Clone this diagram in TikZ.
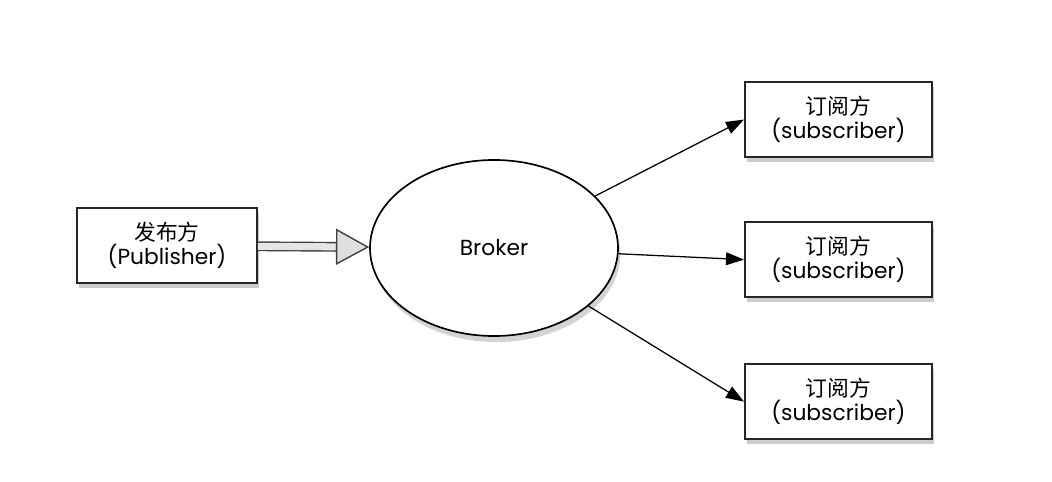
\documentclass[tikz,border=0pt]{standalone}
\usepackage{fontspec}
\setmainfont{Poppins}
\newfontfamily\cjk{Noto Sans CJK SC}
\usepackage{tikz}
\usetikzlibrary{positioning,arrows.meta,shapes,shadows}

\begin{document}
\begin{tikzpicture}[
    party/.style={rectangle, draw=black!85, line width=1.3pt, fill=white,
                  minimum width=4.5cm, minimum height=1.875cm,
                  align=center, font=\fontsize{15.5}{17}\selectfont,
                  drop shadow={shadow xshift=0.6mm, shadow yshift=-1.2mm, opacity=0.4}},
    hub/.style={ellipse, draw=black, line width=1.2pt, fill=white,
                minimum width=6.2cm, minimum height=4.4cm,
                font=\fontsize{15.5}{17}\selectfont,
                drop shadow={shadow xshift=0.6mm, shadow yshift=-1.5mm, opacity=0.35}},
    arrow/.style={-{Triangle[length=4.5mm, width=3.2mm]}, line width=0.9pt},
    pushline/.style={draw=gray!50!black, line width=1pt, double=gray!20, double distance=5pt,
                     -{Triangle[length=8.3mm, width=9mm, color=gray!50!black, fill=gray!25, line width=1pt]}}
]
    \useasboundingbox (0,0) rectangle (26.3,-12.05);

    \node[hub] (broker) at (12.35,-6.2) {Broker};
    \node[party] (pub) at (4.175,-6.14) {{\cjk 发布方}\\(Publisher)};
    \node[party, minimum width=4.675cm] (sub1) at (20.96,-2.99) {{\cjk 订阅方}\\(subscriber)};
    \node[party, minimum width=4.675cm] (sub2) at (20.96,-6.49) {{\cjk 订阅方}\\(subscriber)};
    \node[party, minimum width=4.675cm] (sub3) at (20.96,-10.04) {{\cjk 订阅方}\\(subscriber)};

    \draw[pushline] (pub) -- (broker);
    \draw[arrow] (broker) -- (sub1.west);
    \draw[arrow] (broker) -- (sub2.west);
    \draw[arrow] (broker) -- (sub3.west);
\end{tikzpicture}
\end{document}
